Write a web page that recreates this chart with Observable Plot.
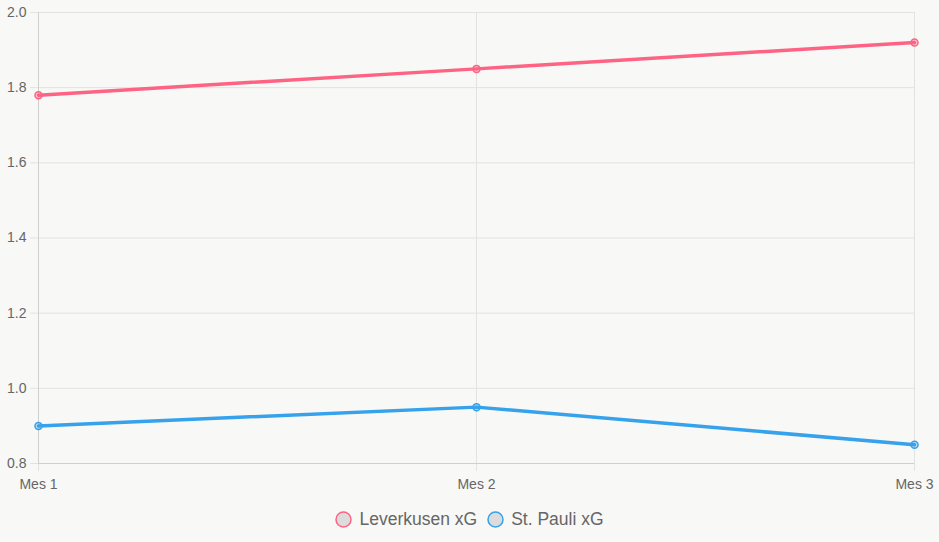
<!DOCTYPE html>
<html>
<head>
<meta charset="utf-8">
<script src="https://cdn.jsdelivr.net/npm/d3@7"></script>
<script src="https://cdn.jsdelivr.net/npm/@observablehq/plot@0.6"></script>
<style>
  html, body { margin: 0; padding: 0; background: #f8f8f6; }
  body { width: 939px; height: 542px; overflow: hidden; font-family: "Liberation Sans", Arial, Helvetica, sans-serif; }
  #legend { display: flex; justify-content: center; align-items: center; height: 38px; font-size: 17.5px; color: #666; }
  .item { display: flex; align-items: center; margin: 0 5px; }
  .item svg { margin-right: 7px; }
</style>
</head>
<body>
<div id="chart"></div>
<div id="legend"></div>
<script>
const months = ["Mes 1", "Mes 2", "Mes 3"];
const leverkusenXG = [1.78, 1.85, 1.92];
const stPauliXG = [0.90, 0.95, 0.85];
const seriesNames = ["Leverkusen xG", "St. Pauli xG"];
const seriesColors = ["#ff6384", "#36a2eb"];
const yTicks = [0.8, 1.0, 1.2, 1.4, 1.6, 1.8, 2.0];

const allSeries = [leverkusenXG, stPauliXG];
const rows = [];
allSeries.forEach((vals, si) => {
  vals.forEach((v, i) => rows.push({month: months[i], value: v, series: seriesNames[si]}));
});

const chart = Plot.plot({
  width: 939,
  height: 500,
  marginLeft: 38,
  marginRight: 25,
  marginTop: 12,
  marginBottom: 37,
  style: {background: "transparent", fontFamily: "'Liberation Sans', Arial, sans-serif", fontSize: "14px", color: "#666"},
  x: {type: "point", domain: months, padding: 0},
  y: {domain: [0.8, 2.0]},
  color: {domain: seriesNames, range: seriesColors},
  marks: [
    Plot.gridY(yTicks, {stroke: "#e2e2e0", strokeOpacity: 1}),
    Plot.gridX(months, {stroke: "#e2e2e0", strokeOpacity: 1}),
    Plot.axisY(yTicks, {tickSize: 8, tickPadding: 4, stroke: "#e2e2e0", strokeOpacity: 1, tickFormat: d3.format(".1f"), fill: "#666", label: null}),
    Plot.axisX(months, {tickSize: 8, tickPadding: 8, stroke: "#e2e2e0", strokeOpacity: 1, fill: "#666", label: null}),
    Plot.ruleX([months[0]], {stroke: "#cfcfcd"}),
    Plot.ruleY([0.8], {stroke: "#cfcfcd"}),
    Plot.line(rows, {x: "month", y: "value", stroke: "series", strokeWidth: 3.5, curve: "linear"}),
    Plot.dot(rows, {x: "month", y: "value", r: 3.5, stroke: "series", fill: "series", fillOpacity: 0.3, strokeWidth: 1.5})
  ]
});
document.getElementById("chart").appendChild(chart);

const legend = document.getElementById("legend");
seriesNames.forEach((name, i) => {
  const item = document.createElement("div");
  item.className = "item";
  item.innerHTML = `<svg width="17" height="17"><circle cx="8.5" cy="8.5" r="7.5" fill="#dcdcdc" stroke="${seriesColors[i]}" stroke-width="1.5"/></svg><span>${name}</span>`;
  legend.appendChild(item);
});
</script>
</body>
</html>
